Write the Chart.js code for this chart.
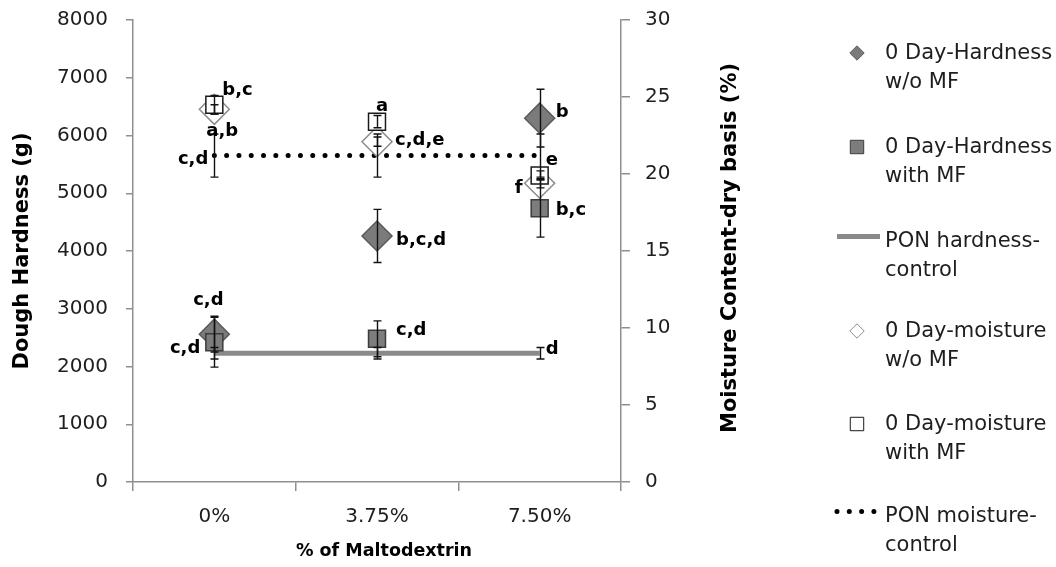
<!DOCTYPE html>
<html>
<head>
<meta charset="utf-8">
<script src="https://cdn.jsdelivr.net/npm/chart.js@4.4.1/dist/chart.umd.min.js"></script>
<style>
  html, body { margin: 0; padding: 0; background: #ffffff; }
  #wrap { width: 1056px; height: 567px; position: relative; }
</style>
</head>
<body>
<div id="wrap"><canvas id="chart" width="1056" height="567"></canvas></div>
<script>
// ---- data ----
const categories = ['0%', '3.75%', '7.50%'];

const hardnessWithoutMF    = [2560, 4260, 6300];
const hardnessWithoutMFErr = [310, 460, 500];
const hardnessWithMF       = [2420, 2480, 4740];
const hardnessWithMFErr    = [430, 310, 500];
const ponHardness          = [2230, 2230, 2230];
const ponHardnessErr       = [100, 100, 100];

const moistureWithoutMF    = [24.2, 22.1, 19.4];
const moistureWithoutMFErr = [0.3, 0.3, 0.3];
const moistureWithMF       = [24.5, 23.4, 19.9];
const moistureWithMFErr    = [0.6, 0.4, 0.3];
const ponMoisture          = [21.2, 21.2, 21.2];
const ponMoistureErr       = [1.4, 1.4, 1.4];

// significance letters for each point
const hardnessWithoutMFLetters = ['c,d', 'b,c,d', 'b'];
const hardnessWithMFLetters    = ['c,d', 'c,d', 'b,c'];
const ponHardnessLetters       = ['', '', 'd'];
const moistureWithoutMFLetters = ['a,b', 'c,d,e', 'f'];
const moistureWithMFLetters    = ['b,c', 'a', 'e'];
const ponMoistureLetters       = ['c,d', '', ''];

// axis ranges and tick steps
const hardnessAxis = { min: 0, max: 8000, step: 1000 };
const moistureAxis = { min: 0, max: 30, step: 5 };

const titleLeft   = 'Dough Hardness (g)';
const titleRight  = 'Moisture Content-dry basis (%)';
const titleBottom = '% of Maltodextrin';

const legendLines = [
  ['0 Day-Hardness', 'w/o MF'],
  ['0 Day-Hardness', 'with MF'],
  ['PON hardness-', 'control'],
  ['0 Day-moisture', 'w/o MF'],
  ['0 Day-moisture', 'with MF'],
  ['PON moisture-', 'control']
];

// ---- styling ----
const FONT = '"DejaVu Sans", "Liberation Sans", sans-serif';
const axisColor = '#8f8f8f';
const textColor = '#1e1e1e';

// letter placement relative to its point: [dx, dy, textAlign]
const letterPlacement = {
  hWo:  [[-6, -34, 'center'], [19, 4, 'left'], [16, -6, 'left']],
  hWith:[[-14, 6, 'right'], [19, -8, 'left'], [16, 2, 'left']],
  ponH: [null, null, [6, -4, 'left']],
  mWo:  [[-8, 22, 'left'], [18, -1, 'left'], [-17, 5, 'right']],
  mWith:[[8, -14, 'left'], [-1, -15, 'left'], [6, -15, 'left']],
  ponM: [[-6, 4, 'right'], null, null]
};

const datasets = [
  {
    key: 'hWo', label: legendLines[0].join(' '), data: hardnessWithoutMF, errors: hardnessWithoutMFErr,
    letters: hardnessWithoutMFLetters, yAxisID: 'y', showLine: false,
    pointStyle: 'rectRot', pointRadius: 15, backgroundColor: '#7b7b7b', borderColor: '#5a5a5a',
    pointBorderWidth: 1.5, order: 5
  },
  {
    key: 'hWith', label: legendLines[1].join(' '), data: hardnessWithMF, errors: hardnessWithMFErr,
    letters: hardnessWithMFLetters, yAxisID: 'y', showLine: false,
    pointStyle: 'rect', pointRadius: 12, backgroundColor: '#7d7d7d', borderColor: '#3c3c3c',
    pointBorderWidth: 1.5, order: 4
  },
  {
    key: 'ponH', label: legendLines[2].join(' '), data: ponHardness, errors: ponHardnessErr,
    letters: ponHardnessLetters, yAxisID: 'y', showLine: true,
    pointRadius: 0, borderColor: '#8a8a8a', borderWidth: 5, order: 6
  },
  {
    key: 'mWo', label: legendLines[3].join(' '), data: moistureWithoutMF, errors: moistureWithoutMFErr,
    letters: moistureWithoutMFLetters, yAxisID: 'y2', showLine: false,
    pointStyle: 'rectRot', pointRadius: 15, backgroundColor: '#ffffff', borderColor: '#8c8c8c',
    pointBorderWidth: 1.5, order: 2
  },
  {
    key: 'mWith', label: legendLines[4].join(' '), data: moistureWithMF, errors: moistureWithMFErr,
    letters: moistureWithMFLetters, yAxisID: 'y2', showLine: false,
    pointStyle: 'rect', pointRadius: 12, backgroundColor: '#ffffff', borderColor: '#1a1a1a',
    pointBorderWidth: 1.5, order: 1
  },
  {
    key: 'ponM', label: legendLines[5].join(' '), data: ponMoisture, errors: ponMoistureErr,
    letters: ponMoistureLetters, yAxisID: 'y2', showLine: true,
    pointRadius: 0, borderColor: '#000000', borderWidth: 5, borderDash: [0, 12.3],
    borderCapStyle: 'round', order: 3
  }
];

// ---- plugins ----
const errorBars = {
  id: 'errorBars',
  afterDatasetsDraw(chart) {
    const ctx = chart.ctx;
    ctx.save();
    ctx.strokeStyle = '#111111';
    ctx.lineWidth = 1.4;
    chart.data.datasets.forEach((ds, i) => {
      if (!ds.errors) return;
      const meta = chart.getDatasetMeta(i);
      const scale = chart.scales[ds.yAxisID];
      meta.data.forEach((pt, j) => {
        const e = ds.errors[j];
        if (!e) return;
        const v = ds.data[j];
        const yTop = scale.getPixelForValue(v + e);
        const yBot = scale.getPixelForValue(v - e);
        const x = Math.round(pt.x) + 0.5;
        ctx.beginPath();
        ctx.moveTo(x, yTop); ctx.lineTo(x, yBot);
        ctx.moveTo(x - 4, yTop); ctx.lineTo(x + 4, yTop);
        ctx.moveTo(x - 4, yBot); ctx.lineTo(x + 4, yBot);
        ctx.stroke();
      });
    });
    ctx.restore();
  }
};

const pointLetters = {
  id: 'pointLetters',
  afterDatasetsDraw(chart) {
    const ctx = chart.ctx;
    ctx.save();
    ctx.font = 'bold 18px ' + FONT;
    ctx.fillStyle = '#000000';
    ctx.textBaseline = 'middle';
    chart.data.datasets.forEach((ds, i) => {
      const meta = chart.getDatasetMeta(i);
      const place = letterPlacement[ds.key];
      meta.data.forEach((pt, j) => {
        const txt = ds.letters[j];
        if (!txt || !place[j]) return;
        const [dx, dy, align] = place[j];
        ctx.textAlign = align;
        ctx.fillText(txt, pt.x + dx, pt.y + dy);
      });
    });
    ctx.restore();
  }
};

const axisTitles = {
  id: 'axisTitles',
  afterDraw(chart) {
    const ctx = chart.ctx;
    const a = chart.chartArea;
    const midY = (a.top + a.bottom) / 2;
    ctx.save();
    ctx.fillStyle = '#000000';
    ctx.textAlign = 'center';
    ctx.textBaseline = 'middle';

    ctx.font = 'bold 21px ' + FONT;
    ctx.save();
    ctx.translate(23, midY);
    ctx.rotate(-Math.PI / 2);
    ctx.fillText(titleLeft, 0, 0);
    ctx.restore();

    ctx.save();
    ctx.translate(a.right + 110, midY - 3);
    ctx.rotate(-Math.PI / 2);
    ctx.fillText(titleRight, 0, 0);
    ctx.restore();

    ctx.font = 'bold 17.5px ' + FONT;
    ctx.fillText(titleBottom, (a.left + a.right) / 2 + 7, 551);
    ctx.restore();
  }
};

const sideLegend = {
  id: 'sideLegend',
  afterDraw(chart) {
    const ctx = chart.ctx;
    const x0 = chart.chartArea.right + 236;   // marker centre
    const xt = x0 + 28;                        // text start
    const baselines = [59, 153, 247, 337, 430, 522];
    ctx.save();
    chart.data.datasets.forEach((ds, i) => {
      const b = baselines[i];
      if (ds.showLine) {
        const y = b - 10.5;
        ctx.save();
        ctx.strokeStyle = ds.borderColor;
        ctx.lineWidth = ds.borderWidth;
        ctx.lineCap = ds.borderCapStyle || 'butt';
        if (ds.borderDash) ctx.setLineDash(ds.borderDash);
        ctx.beginPath();
        ctx.moveTo(x0 - 20, y);
        ctx.lineTo(x0 + 23, y);
        ctx.stroke();
        ctx.restore();
      } else {
        ctx.fillStyle = ds.backgroundColor;
        ctx.strokeStyle = ds.borderColor;
        Chart.helpers.drawPoint(ctx, {
          pointStyle: ds.pointStyle,
          radius: ds.pointStyle === 'rect' ? 9.5 : 7.2,
          rotation: 0,
          borderWidth: 1.3
        }, x0, b - 6);
      }
      ctx.fillStyle = textColor;
      ctx.font = '21px ' + FONT;
      ctx.textAlign = 'left';
      ctx.textBaseline = 'alphabetic';
      legendLines[i].forEach((line, k) => ctx.fillText(line, xt, b + k * 29));
    });
    ctx.restore();
  }
};

// ---- chart ----
const tickFont = { family: FONT, size: 20 };
const plainNumber = v => String(v);

// keep the vertical axes from reserving extra room above/below the plot
function fixVertical(width) {
  return s => { s.width = width; s.paddingTop = 6; s.paddingBottom = 6; };
}

new Chart(document.getElementById('chart'), {
  type: 'line',
  data: { labels: categories, datasets },
  options: {
    responsive: false,
    animation: false,
    layout: { padding: { top: 20, left: 0, right: 0, bottom: 0 } },
    plugins: { legend: { display: false }, tooltip: { enabled: false } },
    scales: {
      x: {
        type: 'category',
        offset: true,
        grid: { offset: true, drawOnChartArea: false, drawTicks: true, tickLength: 9, color: axisColor, lineWidth: 1.5 },
        border: { display: true, color: axisColor, width: 1.5 },
        ticks: { font: tickFont, color: textColor, padding: 14, maxRotation: 0 },
        afterFit(s) { s.height = 85; s.paddingLeft = 0; s.paddingRight = 0; }
      },
      y: {
        position: 'left',
        min: hardnessAxis.min, max: hardnessAxis.max,
        ticks: { stepSize: hardnessAxis.step, font: tickFont, color: textColor, padding: 18, callback: plainNumber },
        grid: { drawOnChartArea: false, drawTicks: true, tickLength: 7, color: axisColor, lineWidth: 1.5 },
        border: { display: true, color: axisColor, width: 1.5 },
        afterFit: fixVertical(133)
      },
      y2: {
        position: 'right',
        min: moistureAxis.min, max: moistureAxis.max,
        ticks: { stepSize: moistureAxis.step, font: tickFont, color: textColor, padding: 15, callback: plainNumber },
        grid: { drawOnChartArea: false, drawTicks: true, tickLength: 9, color: axisColor, lineWidth: 1.5 },
        border: { display: true, color: axisColor, width: 1.5 },
        afterFit: fixVertical(435)
      }
    }
  },
  plugins: [errorBars, pointLetters, axisTitles, sideLegend]
});
</script>
</body>
</html>
